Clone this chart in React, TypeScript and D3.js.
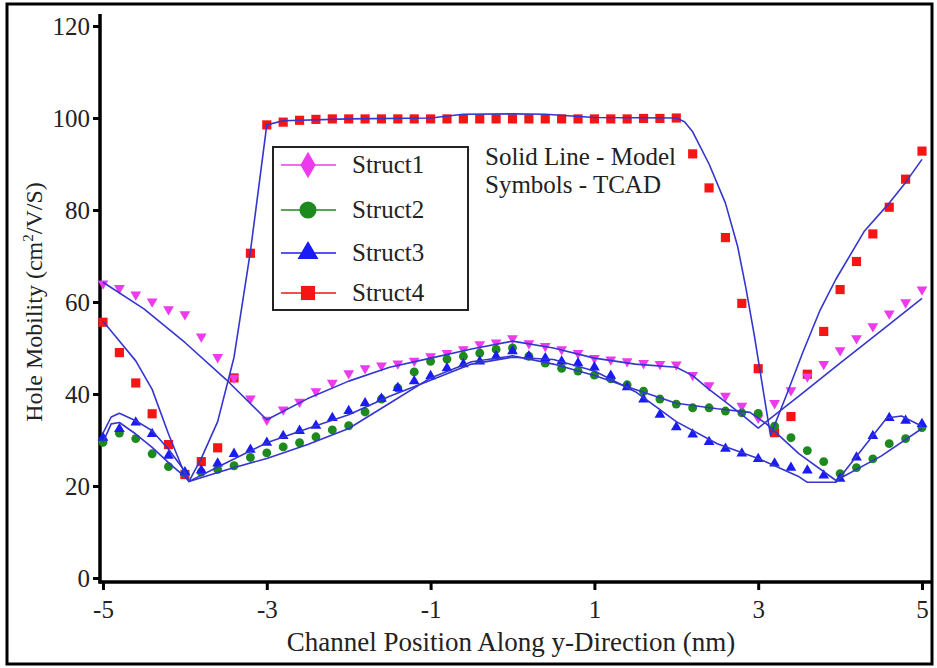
import * as d3 from 'd3';
import { useEffect, useRef } from 'react';

// TCAD sample positions (nm)
const positions = [
  -5, -4.8, -4.6, -4.4, -4.2, -4, -3.8, -3.6, -3.4, -3.2, -3, -2.8, -2.6, -2.4, -2.2, -2, -1.8,
  -1.6, -1.4, -1.2, -1, -0.8, -0.6, -0.4, -0.2, 0, 0.2, 0.4, 0.6, 0.8, 1, 1.2, 1.4, 1.6, 1.8, 2,
  2.2, 2.4, 2.6, 2.8, 3, 3.2, 3.4, 3.6, 3.8, 4, 4.2, 4.4, 4.6, 4.8, 5,
];

// TCAD symbols
const struct1Tcad = [
  64, 63, 61.6, 60.1, 58.4, 57.3, 52.5, 48, 43.5, 39, 34.4, 36.6, 38.3, 40.6, 42.4, 44.5, 45.6,
  46.2, 46.6, 47.2, 48.2, 48.9, 49.7, 50.8, 51.2, 52.1, 51, 50.4, 49.7, 48.9, 47.8, 47.5, 47.1, 46.7, 46.5, 46.4,
  44.1, 41.9, 39.6, 37.4, 34.8, 38, 40.8, 43.8, 46.5, 49.5, 52.1, 54.7, 57.5, 59.9, 62.7,
];
const struct2Tcad = [
  29.5, 31.5, 30.3, 27, 24.2, 22.7, 23, 23.6, 24.4, 26.2, 27.2, 28.5, 29.4, 30.7, 32.2, 33.1, 36.1,
  38.9, 41.3, 44.8, 47.1, 47.6, 48.2, 48.9, 49.7, 50, 48.2, 46.7, 45.6, 45, 44.1, 43.3, 42, 40.6, 38.9, 37.8,
  37, 37, 36.3, 35.9, 35.8, 33, 30.5, 27.7, 25.3, 22.7, 24, 25.9, 29.2, 30.3, 32.7,
];
const struct3Tcad = [
  30.5, 32.4, 33.8, 31.3, 26.6, 23, 23.4, 24.9, 27, 27.9, 29.4, 30.9, 32, 33.1, 34.8, 36.3, 38,
  39, 41.3, 42.8, 43.9, 45.6, 46.5, 47.1, 48.2, 49.3, 48.2, 47.8, 47.1, 46.7, 45.8, 44, 41.5, 38.8, 35.5, 32.8,
  31.2, 29.6, 28.1, 27.1, 25.9, 24.9, 24, 23.4, 22.3, 21.6, 26.2, 30.9, 34.8, 34.2, 33.5,
];
const struct4Tcad = [
  55.6, 49, 42.4, 35.7, 29, 22.5, 25.3, 28.3, 43.5, 70.6, 98.5, 99.1, 99.5, 99.7, 99.8, 99.8, 99.8,
  99.8, 99.8, 99.8, 99.8, 99.8, 99.8, 99.8, 99.8, 99.8, 99.8, 99.8, 99.8, 99.8, 99.8, 99.8, 99.8, 99.9, 99.9, 100,
  92.2, 84.8, 74, 59.7, 45.5, 31.6, 35.1, 44.3, 53.6, 62.7, 68.8, 74.8, 80.6, 86.7, 92.8,
];

// Model curves (solid lines)
const model1X = [-5, -4.5, -4, -3.5, -3, -2.5, -2, -1.5, -1, -0.5, 0, 0.5, 1, 1.5, 2, 2.2, 2.4, 2.6, 2.8, 3, 3.5, 4, 4.5, 5];
const model1Y = [64.3, 58.5, 51.2, 43.2, 34.4, 39, 42.8, 45.8, 47.8, 49.8, 51.5, 50, 47.8, 46.5, 45.8, 44, 41, 38.3, 35.5, 32.6, 39.6, 46.7, 53.7, 60.8];

const model2X = [-5, -4.9, -4.8, -4.6, -4.4, -4.2, -4, -3.95, -3.5, -3, -2.5, -2, -1.5, -1, -0.5, 0, 0.5, 1, 1.5, 2, 2.5, 2.9, 3.1, 3.5, 3.95, 4.5, 5];
const model2Y = [29.5, 33.5, 33.8, 31.3, 28.4, 25.1, 22, 21, 23.5, 26, 29, 32.5, 38, 43.5, 47, 48.3, 46.5, 44, 41, 38, 36.8, 36, 33.5, 27, 21.2, 26.5, 32.5];

const model3X = [-5, -4.9, -4.8, -4.6, -4.4, -4.2, -4, -3.95, -3.5, -3, -2.5, -2, -1.5, -1, -0.5, 0, 0.5, 1, 1.5, 2, 2.5, 3, 3.5, 3.6, 3.95, 4.57, 4.75, 5];
const model3Y = [31.5, 35, 35.8, 34.2, 32, 28, 23.2, 21, 25, 29.4, 32.5, 35.5, 39.5, 43, 46.5, 48, 47.5, 45, 40.5, 34, 29.2, 26, 22, 20.8, 20.8, 34.8, 35.2, 33];

const model4X = [-5, -4.8, -4.6, -4.4, -4.2, -4, -3.95, -3.8, -3.6, -3.4, -3.2, -3, -2.8, -2, -1, -0.6, 0, 0.4, 1, 2, 2.1, 2.2, 2.4, 2.6, 2.75, 2.85, 2.95, 3.05, 3.15, 3.35, 3.55, 3.75, 3.95, 4.3, 4.6, 4.8, 5];
const model4Y = [55.8, 51.5, 47.2, 41, 31.3, 22.5, 21, 26, 34, 48, 71, 98.5, 99.4, 99.8, 100, 100.8, 100.9, 100.8, 100.1, 100, 99.2, 97, 90, 81.5, 72, 63, 53, 42, 31, 40, 49.3, 58, 65, 75.5, 81.5, 86, 91];

const seriesNames = ['Struct1', 'Struct2', 'Struct3', 'Struct4'];
const xTicks = [-5, -3, -1, 1, 3, 5];
const yTicks = [0, 20, 40, 60, 80, 100, 120];
const notes = ['Solid Line - Model', 'Symbols - TCAD'];

const W = 937;
const H = 668;
const FONT = "'Liberation Serif', 'DejaVu Serif', 'Times New Roman', Times, serif";
const LINE_COLOR = '#3535d0';

export default function App() {
  const ref = useRef(null);

  useEffect(() => {
    document.body.style.margin = '0';
    const svg = d3.select(ref.current);
    svg.selectAll('*').remove();

    const x = d3.scaleLinear().domain([-5, 5]).range([103, 922]);
    const y = d3.scaleLinear().domain([0, 120]).range([578, 26]);
    const axisY = 582;
    const axisX = 100;

    svg.append('rect').attr('width', W).attr('height', H).attr('fill', '#fff');
    svg.append('rect')
      .attr('x', 7).attr('y', 4).attr('width', 925).attr('height', 660)
      .attr('fill', 'none').attr('stroke', '#000').attr('stroke-width', 3);

    // y axis
    const gy = svg.append('g').attr('transform', `translate(${axisX},0)`)
      .call(d3.axisLeft(y).tickValues(yTicks).tickSize(7).tickSizeOuter(0).tickPadding(3).tickFormat((d) => String(d)));
    gy.attr('font-family', FONT).attr('font-size', 25);
    gy.select('.domain').remove();
    gy.selectAll('line').attr('stroke', '#000').attr('stroke-width', 3);
    gy.selectAll('text').attr('fill', '#222');

    // x axis
    const gx = svg.append('g').attr('transform', `translate(0,${axisY})`)
      .call(d3.axisBottom(x).tickValues(xTicks).tickSize(8).tickSizeOuter(0).tickPadding(10).tickFormat((d) => String(d)));
    gx.attr('font-family', FONT).attr('font-size', 25);
    gx.select('.domain').remove();
    gx.selectAll('line').attr('stroke', '#000').attr('stroke-width', 3);
    gx.selectAll('text').attr('fill', '#222');

    svg.append('line').attr('x1', axisX).attr('x2', axisX).attr('y1', 14).attr('y2', axisY + 1.5)
      .attr('stroke', '#000').attr('stroke-width', 3.5);
    svg.append('line').attr('x1', axisX - 1.5).attr('x2', 931).attr('y1', axisY).attr('y2', axisY)
      .attr('stroke', '#000').attr('stroke-width', 3.5);

    svg.append('text')
      .attr('x', 511).attr('y', 651).attr('text-anchor', 'middle')
      .attr('font-family', FONT).attr('font-size', 27).attr('fill', '#222')
      .text('Channel Position Along y-Direction (nm)');

    const yl = svg.append('text')
      .attr('transform', 'translate(42,302) rotate(-90)')
      .attr('text-anchor', 'middle')
      .attr('font-family', FONT).attr('font-size', 24).attr('fill', '#222');
    yl.append('tspan').text('Hole Mobility (cm');
    yl.append('tspan').attr('dy', -9).attr('font-size', 15).text('2');
    yl.append('tspan').attr('dy', 9).text('/V/S)');

    const styles = [
      { color: '#ec3aec', symbol: d3.symbolTriangle, size: 50, rotate: 180, tcad: struct1Tcad },
      { color: '#1d8a1d', symbol: d3.symbolCircle, size: 62, rotate: 0, tcad: struct2Tcad },
      { color: '#1b1bf5', symbol: d3.symbolTriangle, size: 50, rotate: 0, tcad: struct3Tcad },
      { color: '#f51515', symbol: d3.symbolSquare, size: 84, rotate: 0, tcad: struct4Tcad },
    ];

    const plot = svg.append('g');
    // symbols (Struct4 first so the others sit on top)
    [3, 0, 1, 2].forEach((i) => {
      const s = styles[i];
      const path = d3.symbol().type(s.symbol).size(s.size)();
      plot.append('g').selectAll('path')
        .data(positions.map((p, k) => ({ p, v: s.tcad[k] })).filter((d) => d.v != null))
        .enter()
        .append('path')
        .attr('d', path)
        .attr('transform', (d) => `translate(${x(d.p)},${y(d.v)}) rotate(${s.rotate})`)
        .attr('fill', s.color);
    });

    const models = [
      [model1X, model1Y],
      [model2X, model2Y],
      [model3X, model3Y],
      [model4X, model4Y],
    ];
    const line = d3.line().x((d) => x(d[0])).y((d) => y(d[1]));
    models.forEach(([mx, my]) => {
      plot.append('path')
        .attr('d', line(mx.map((v, k) => [v, my[k]])))
        .attr('fill', 'none')
        .attr('stroke', LINE_COLOR)
        .attr('stroke-width', 1.6)
        .attr('stroke-linejoin', 'round');
    });

    // legend
    const lg = svg.append('g');
    lg.append('rect')
      .attr('x', 273).attr('y', 147).attr('width', 195).attr('height', 163)
      .attr('fill', '#fff').attr('stroke', '#222').attr('stroke-width', 2);
    const legendRows = [165, 210, 253, 293];
    const legendSymbols = [d3.symbolDiamond, d3.symbolCircle, d3.symbolTriangle, d3.symbolSquare];
    const legendSizes = [200, 230, 190, 200];
    seriesNames.forEach((name, i) => {
      const cy = legendRows[i];
      lg.append('line').attr('x1', 281).attr('x2', 336).attr('y1', cy).attr('y2', cy)
        .attr('stroke', styles[i].color).attr('stroke-width', 1.5);
      lg.append('path')
        .attr('d', d3.symbol().type(legendSymbols[i]).size(legendSizes[i])())
        .attr('transform', `translate(308,${cy})`)
        .attr('fill', styles[i].color);
      lg.append('text').attr('x', 352).attr('y', cy + 8)
        .attr('font-family', FONT).attr('font-size', 25).attr('fill', '#222')
        .text(name);
    });

    notes.forEach((t, i) => {
      svg.append('text').attr('x', 485).attr('y', 165 + i * 28)
        .attr('font-family', FONT).attr('font-size', 25).attr('fill', '#222')
        .text(t);
    });
  }, []);

  return (
    <svg
      ref={ref}
      width={W}
      height={H}
      style={{ position: 'absolute', left: 0, top: 0, display: 'block' }}
    />
  );
}
